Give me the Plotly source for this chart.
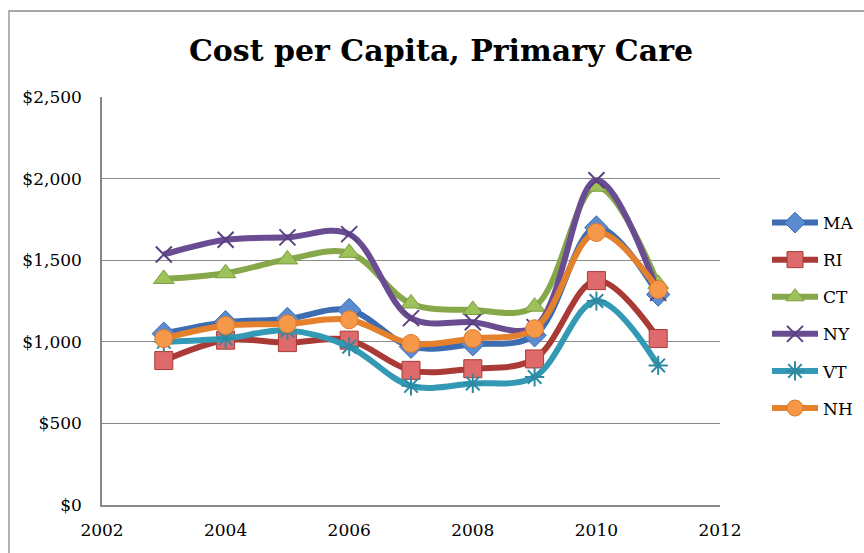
import plotly.graph_objects as go

years = [2003, 2004, 2005, 2006, 2007, 2008, 2009, 2010, 2011]
MA = [1050, 1120, 1140, 1195, 970, 985, 1040, 1700, 1290]
RI = [885, 1010, 995, 1010, 825, 835, 895, 1375, 1020]
CT = [1385, 1420, 1505, 1545, 1235, 1195, 1215, 1950, 1355]
NY = [1535, 1625, 1640, 1660, 1145, 1120, 1090, 1990, 1300]
VT = [1000, 1020, 1070, 970, 730, 745, 785, 1250, 855]
NH = [1020, 1100, 1110, 1135, 990, 1020, 1080, 1670, 1320]

series = [
    ("MA", MA, "#3E6CB0", "diamond", "#5B8BD0", "#3E6CB0"),
    ("RI", RI, "#A93A36", "square", "#DE6A6C", "#A93A36"),
    ("CT", CT, "#87A84A", "triangle-up", "#9DC25A", "#7C9C42"),
    ("NY", NY, "#6A4C93", "x-thin", "#6A4C93", "#5A4080"),
    ("VT", VT, "#3399B5", "asterisk", "#3399B5", "#2E8AA3"),
    ("NH", NH, "#E5802C", "circle", "#F6984A", "#E07A28"),
]

FONT = "DejaVu Serif"

# plot area spans x from 102 to 720 px (width 618), y from 97 to 505 px (height 408)
PW, PL = 618.0, 102.0
PH, PB = 408.0, 505.0

fig = go.Figure()
for name, vals, lc, sym, mfill, mline in series:
    thin = sym in ("x-thin", "asterisk")
    fig.add_trace(go.Scatter(
        x=years, y=vals, name=name, legendgroup=name,
        mode="lines+markers",
        line=dict(color=lc, width=6, shape="spline", smoothing=1.0),
        marker=dict(symbol=sym, size=18 if not thin else 16,
                    color=mfill,
                    line=dict(color=mline, width=2 if thin else 1)),
    ))

fig.update_layout(
    autosize=False, width=864, height=553,
    margin=dict(l=102, r=144, t=97, b=48),
    paper_bgcolor="white", plot_bgcolor="white",
    title=dict(text="<b>Cost per Capita, Primary Care</b>",
               x=441 / 864, xanchor="center", y=1 - 50 / 553, yanchor="middle",
               font=dict(family=FONT, size=30, color="black")),
    font=dict(family=FONT, size=17, color="black"),
    xaxis=dict(range=[2002, 2012], tickvals=[2002, 2004, 2006, 2008, 2010, 2012],
               showgrid=False, zeroline=False, showline=True, linecolor="#878787",
               linewidth=1.5, ticks="outside", ticklen=9, tickcolor="rgba(0,0,0,0)",
               tickfont=dict(family=FONT, size=17, color="black"), mirror=False),
    yaxis=dict(range=[0, 2500], tickvals=[0, 500, 1000, 1500, 2000, 2500],
               ticktext=["$0", "$500", "$1,000", "$1,500", "$2,000", "$2,500"],
               showgrid=True, gridcolor="#8A8A8A", gridwidth=1.3,
               zeroline=False, showline=True, linecolor="#878787", linewidth=1.5,
               ticks="outside", ticklen=15, tickcolor="rgba(0,0,0,0)",
               tickfont=dict(family=FONT, size=17, color="black")),
    legend=dict(xref="container", yref="container",
                x=767 / 864, xanchor="left", y=1 - 205 / 553, yanchor="top",
                font=dict(family=FONT, size=17, color="black"),
                itemwidth=46,
                tracegroupgap=12, bgcolor="rgba(0,0,0,0)"),
    showlegend=True,
)

fig.add_shape(type="rect", xref="paper", yref="paper",
              x0=(9 - PL) / PW, x1=(880 - PL) / PW,
              y0=(PB - 580) / PH, y1=(PB - 11) / PH,
              line=dict(color="#8A8A8A", width=1.3), fillcolor="rgba(0,0,0,0)",
              layer="below")

fig.write_html("out.html")
